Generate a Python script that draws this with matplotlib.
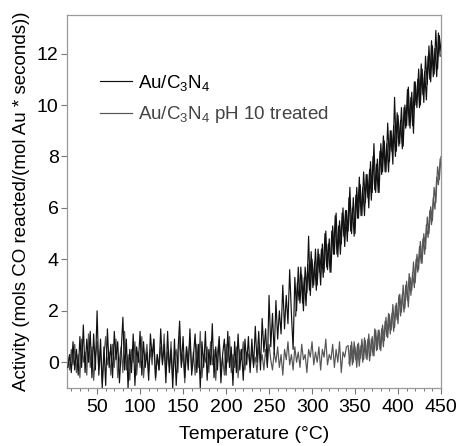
import numpy as np
import matplotlib
matplotlib.use("Agg")
import matplotlib.pyplot as plt
from matplotlib.ticker import MultipleLocator

plt.rcParams['font.family'] = ['Liberation Sans', 'DejaVu Sans']
plt.rcParams['mathtext.fontset'] = 'custom'
plt.rcParams['mathtext.rm'] = 'Liberation Sans'
plt.rcParams['mathtext.it'] = 'Liberation Sans'

# ---- data ----
t_start, t_step = 16, 2  # temperature sampling (°C), main runs
t2_au_start = 281        # second (overlapping) trace of Au/C3N4
t2_ph_start = 343        # second (overlapping) trace of pH 10 sample

au_low = [-0.2, 0.3, -0.4, 0.8, -0.3, 0.5, -0.5, 1.0, -0.2, 1.45,
          -0.4, 0.9, 0.0, 1.2, -0.6, 1.1, -0.3, 2.0, -0.5, 0.9,
          -1.0, 0.6, -0.9, 1.3, -0.2, 0.7, -0.6, 1.2, 0.1, 0.8,
          -0.8, 0.4, 1.75, -0.3, 0.9, -1.0, 0.5, -0.4, 1.1, -0.9,
          0.6, 0.0, 1.2, -0.5, 0.8, -0.2, 0.4, -0.7, 1.1, 0.2,
          0.9, -0.6, 0.3, -0.3, 1.3, -0.1, 0.7, -0.8, 1.2, -0.4,
          0.5, -1.0, 0.9, -0.9, 0.4, 1.6, -0.2, 1.0, -0.6, 0.6,
          -0.3, 1.3, -0.5, 0.2, 1.1, -0.4, 0.7, -1.0, 0.8, -0.2,
          1.2, -0.7, 0.5, -0.1, 1.5, -0.6, 0.6, -0.3, 1.0, -0.8,
          0.3, 0.9, -0.5, 1.2, -0.2, 0.6, -0.9, 0.8, -0.4, 1.1,
          -0.3, 0.5, -0.7, 0.9, -0.1]
au_onset = [1.0, -0.4, 0.9, -0.2, 1.4, 0.0, 1.2, -0.3, 1.7, 0.4,
            1.3, -0.2, 2.6, 0.6, 1.9, 0.3, 2.4, 0.9, 2.0, 1.1,
            3.0, 1.3, 2.6, 1.5, 3.6, 1.9]
au_high = [0.5, 3.3, 2.0, 3.7, 2.3, 3.4, 2.0, 3.7, 2.7, 4.9,
           2.6, 4.0, 3.0, 4.4, 3.0, 4.2, 3.0, 4.6, 3.5, 5.1,
           3.6, 4.8, 3.5, 5.3, 4.2, 5.8, 4.1, 5.5, 4.6, 6.0,
           4.5, 5.9, 5.1, 6.8, 5.0, 6.4, 5.0, 6.8, 5.6, 6.9,
           5.7, 7.4, 6.2, 7.3, 6.0, 7.8, 6.6, 8.5, 6.6, 7.9,
           6.6, 8.5, 7.4, 8.6, 7.4, 9.3, 7.8, 9.0, 7.7, 10.3,
           8.2, 9.6, 8.5, 9.9, 8.4, 10.0, 9.2, 10.7, 9.1, 10.5,
           8.9, 10.9, 9.9, 11.4, 10.0, 11.4, 10.1, 11.9, 10.8, 12.3,
           10.9, 12.3, 11.2, 12.9, 11.4, 12.7, 12.1]
au_run2 = [1.8, 3.1, 2.4, 3.7, 2.3, 3.3, 2.2, 3.8, 2.8, 4.3,
           2.9, 3.9, 2.8, 4.4, 3.5, 4.4, 3.3, 5.0, 3.7, 4.6,
           3.5, 5.1, 4.2, 5.7, 4.2, 5.3, 4.2, 5.8, 4.9, 5.9,
           4.7, 6.4, 5.1, 6.0, 4.9, 6.5, 5.6, 7.2, 5.7, 6.8,
           5.7, 7.3, 6.4, 7.5, 6.3, 8.0, 6.7, 7.7, 6.6, 8.2,
           7.3, 8.8, 7.4, 8.5, 7.4, 9.0, 8.2, 9.2, 8.0, 9.7,
           8.4, 9.4, 8.3, 9.9, 9.1, 10.6, 9.2, 10.3, 9.2, 10.9,
           10.0, 11.0, 9.9, 11.6, 10.4, 11.3, 10.2, 11.9, 11.0, 12.5,
           11.1, 12.2, 11.1, 12.8, 11.9]

ph10_low = [0.2, -0.3, 0.5, -0.1, 0.7, -0.4, 0.3, -0.6, 0.9, 0.0,
            0.4, -0.5, 1.1, -0.2, 0.6, -0.7, 0.2, 0.8, -0.3, 0.5,
            -0.8, 0.3, 1.0, -0.1, 0.4, -0.5, 0.7, -0.2, 0.9, -0.6,
            0.1, 0.6, -0.4, 1.2, -0.3, 0.3, -0.7, 0.5, 0.0, 0.8,
            -0.5, 0.4, -0.2, 1.0, -0.6, 0.2, 0.7, -0.4, 0.5, -0.1,
            0.9, -0.7, 0.3, -0.3, 0.6, 0.0, 1.1, -0.5, 0.4, -0.2,
            0.8, -0.6, 0.2, 0.5, -0.4, 1.0, -0.1, 0.3, -0.8, 0.6,
            0.1, 0.9, -0.3, 0.4, -0.5, 0.7, -0.2, 1.2, -0.6, 0.3,
            0.0, 0.6, -0.4, 0.8, -0.1, 0.5, -0.7, 0.4, 0.9, -0.3,
            0.2, -0.5, 0.7, 0.0, 1.0, -0.4, 0.3, -0.2, 0.6, -0.6,
            0.5, 0.1, 0.8, -0.3, 0.4]
ph10_flat = [0.3, -0.2, 0.5, -0.1, 0.2, -0.4, 0.6, 0.0, 0.3, -0.3,
             0.5, -0.1, 0.7, 0.1, -0.3, 0.4, 0.0, 0.6, -0.2, 0.3,
             -0.5, 0.5, 0.1, 0.8, -0.1, 0.3, -0.3, 0.6, 0.0, 0.4,
             -0.2, 0.7, 0.1, 0.3, -0.4, 0.5, 0.2, 0.8, -0.1, 0.4,
             0.0, 0.6, -0.3, 0.5, 0.2, 0.9, -0.1, 0.3, 0.1, 0.7,
             -0.2, 0.5, 0.0, 0.8, -0.4, 0.4, 0.2, 0.6]
ph10_rise = [0.65, -0.15, 0.8, 0.0, 0.6, -0.2, 0.75, 0.15, 0.9, 0.1,
             0.85, 0.1, 1.1, 0.25, 1.0, 0.25, 1.25, 0.5, 1.25, 0.45,
             1.45, 0.85, 1.75, 0.95, 1.85, 1.25, 2.25, 1.35, 2.3, 1.5,
             2.65, 1.95, 3.0, 2.1, 3.15, 2.15, 3.3, 2.8, 3.9, 3.1,
             4.2, 3.6, 4.7, 3.85, 5.0, 4.4, 5.65, 5.0, 6.05, 5.5,
             6.8, 6.2, 7.6, 7.1, 8.0]
ph10_run2 = [-0.05, 0.65, -0.1, 0.8, 0.1, 0.7, -0.15, 0.65, 0.0, 0.95,
             0.15, 0.9, 0.05, 0.9, 0.25, 1.3, 0.45, 1.25, 0.5, 1.3,
             0.6, 1.6, 1.0, 1.9, 1.1, 1.9, 1.2, 2.2, 1.65, 2.6,
             1.8, 2.65, 1.95, 3.0, 2.4, 3.45, 2.6, 3.5, 2.9, 4.0,
             3.5, 4.5, 3.85, 4.8, 4.2, 5.35, 4.85, 5.9, 5.35, 6.4,
             5.95, 7.2, 6.9, 7.9]

labels = ["Au/C$_3$N$_4$", "Au/C$_3$N$_4$ pH 10 treated"]
colors = ["#111111", "#555555"]

au = np.array(au_low + au_onset + au_high)
ph10 = np.array(ph10_low + ph10_flat + ph10_rise)
temp_au = t_start + t_step * np.arange(len(au))
temp_ph = t_start + t_step * np.arange(len(ph10))
temp_au2 = t2_au_start + t_step * np.arange(len(au_run2))
temp_ph2 = t2_ph_start + t_step * np.arange(len(ph10_run2))

fig = plt.figure(figsize=(4.59, 4.46), dpi=100)
ax = fig.add_axes([67/459, 58/446, 374/459, 373/446])

lw = 0.85
l2, = ax.plot(temp_ph, ph10, color=colors[1], lw=lw, label=labels[1], zorder=2)
ax.plot(temp_ph2, ph10_run2, color=colors[1], lw=lw, zorder=2)
l1, = ax.plot(temp_au, au, color=colors[0], lw=lw, label=labels[0], zorder=3)
ax.plot(temp_au2, au_run2, color=colors[0], lw=lw, zorder=3)

ax.set_xlim(15, 450)
ax.set_ylim(-1, 13.5)
ax.xaxis.set_major_locator(MultipleLocator(50))
ax.xaxis.set_minor_locator(MultipleLocator(10))
ax.yaxis.set_major_locator(MultipleLocator(2))

for s in ax.spines.values():
    s.set_color('#999999')
    s.set_linewidth(0.9)
ax.tick_params(axis='both', which='major', direction='out', length=4, width=0.8,
               color='#777777', labelsize=14, pad=2)
ax.tick_params(axis='x', which='major', pad=4)
ax.tick_params(axis='x', which='minor', direction='out', length=2.5, width=0.7,
               color='#777777')

ax.set_xlabel("Temperature (°C)", fontsize=14, labelpad=7)
ax.set_ylabel("Activity (mols CO reacted/(mol Au * seconds))", fontsize=13.5, labelpad=5)

leg = ax.legend(handles=[l1, l2], loc='upper left', bbox_to_anchor=(0.068, 0.865),
                frameon=False, fontsize=13.5, handlelength=1.7, handletextpad=0.35,
                labelspacing=0.6, borderaxespad=0)
for txt, c in zip(leg.get_texts(), ["#000000", "#444444"]):
    txt.set_color(c)

fig.savefig("out.png", dpi=100)
